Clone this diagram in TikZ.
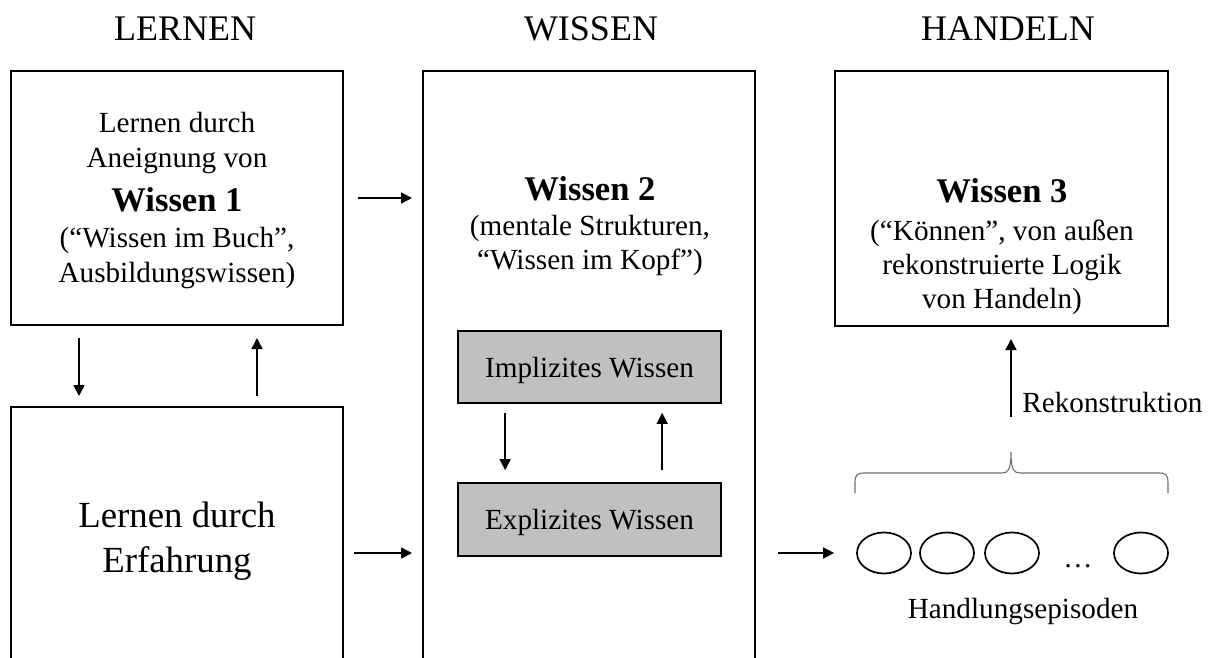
\documentclass[tikz,border=0pt]{standalone}
\usepackage{fontspec}
\setmainfont{Liberation Serif}
\usetikzlibrary{shapes.geometric,arrows.meta}
\definecolor{silvergrey}{RGB}{192,192,192}
\definecolor{bracegrey}{RGB}{110,110,110}
\newcommand\myfs[1]{\fontsize{#1}{#1}\selectfont}
\begin{document}
\begin{tikzpicture}[x=0.5pt,y=-0.5pt,
  box/.style={draw,line width=1pt,minimum width=166pt,inner sep=0pt},
  greybox/.style={draw,line width=0.85pt,fill=silvergrey,minimum width=131.5pt,minimum height=36pt,inner sep=0pt,text depth=0pt,font=\myfs{14.6}},
  head/.style={anchor=base,inner sep=0pt,font=\myfs{18}},
  txt/.style={anchor=base,inner sep=0pt,font=\myfs{14.6}},
  big/.style={anchor=base,inner sep=0pt,font=\myfs{18.4}},
  bold/.style={anchor=base,inner sep=0pt,font=\myfs{17.3}\bfseries},
  arr/.style={line width=0.8pt,-{Triangle[length=5.5pt,width=5.5pt]}},
  episode/.style={draw,ellipse,line width=0.85pt,minimum width=27pt,minimum height=20.5pt,inner sep=0pt}
]
\useasboundingbox (0,0) rectangle (1212,658);
\clip (0,0) rectangle (1212,658);

% headings
\node[head] (hL) at (185,41) {LERNEN};
\node[head] (hW) at (591,41) {WISSEN};
\node[head] (hH) at (1008,41) {HANDELN};

% boxes
\node[box,minimum height=127pt] (box1) at (177,198) {};
\node[box,minimum height=146pt] (erf) at (177,553) {};
\node[box,minimum height=482pt] (w2) at (589,553) {};
\node[box,minimum width=166.5pt,minimum height=127.5pt] (w3) at (1001.5,198.5) {};
\node[greybox] (impl) at (589.5,367) {Implizites Wissen};
\node[greybox,minimum height=36.5pt] (expl) at (589.5,519.5) {Explizites Wissen};

% box 1 text
\node[txt] (t1a) at (177,133) {Lernen durch};
\node[txt] (t1b) at (177,168) {Aneignung von};
\node[bold] (t1c) at (177,212) {Wissen 1};
\node[txt] (t1d) at (177,248) {(“Wissen im Buch”,};
\node[txt] (t1e) at (177,283) {Ausbildungswissen)};

% Erfahrung text
\node[big] (t2a) at (177,527) {Lernen durch};
\node[big] (t2b) at (177,572) {Erfahrung};

% Wissen 2 text
\node[bold] (t3a) at (590,201) {Wissen 2};
\node[txt] (t3b) at (590,235) {(mentale Strukturen,};
\node[txt] (t3c) at (590,270) {“Wissen im Kopf”)};

% Wissen 3 text
\node[bold] (t4a) at (1002,203) {Wissen 3};
\node[txt] (t4b) at (1002,241) {(“Können”, von außen};
\node[txt] (t4c) at (1002,275) {rekonstruierte Logik};
\node[txt] (t4d) at (1002,308) {von Handeln)};

% episodes
\node[episode] (e1) at (884,553) {};
\node[episode] (e2) at (947,553) {};
\node[episode] (e3) at (1012,553) {};
\node[txt] (dots) at (1078,567) {…};
\node[episode] (e4) at (1141,553) {};
\node[txt] (hep) at (1023,618) {Handlungsepisoden};

% brace
\coordinate (btip) at (1011,452);
\draw[bracegrey,line width=0.55pt] (855,493) -- (855,483) .. controls (855,475) and (857,473) .. (864,473)
  -- (1002,473) .. controls (1008,473) and (1011,470) .. (btip)
  .. controls (1011,470) and (1014,473) .. (1020,473)
  -- (1159,473) .. controls (1166,473) and (1168,475) .. (1168,483) -- (1168,493);

% arrows
\draw[arr,shorten <=7pt,shorten >=5pt] (box1.east) -- (box1.east -| w2.west);
\draw[arr,shorten <=5pt,shorten >=5pt] (erf.east) -- (erf.east -| w2.west);
\draw[arr,shorten <=11pt,shorten >=11pt] (w2.east |- e1.west) -- (e1.west);
\draw[arr,shorten <=6pt,shorten >=5pt] ([xshift=34.5pt]box1.south west) -- ([xshift=34.5pt]box1.south west |- erf.north);
\draw[arr,shorten <=5pt,shorten >=6pt] ([xshift=123.5pt]erf.north west) -- ([xshift=123.5pt]erf.north west |- box1.south);
\draw[arr,shorten <=4.5pt,shorten >=6pt] ([xshift=24pt]impl.south west) -- ([xshift=24pt]impl.south west |- expl.north);
\draw[arr,shorten <=6pt,shorten >=4.5pt] ([xshift=102.5pt]expl.north west) -- ([xshift=102.5pt]expl.north west |- impl.south);
\draw[arr,shorten <=17.5pt,shorten >=6pt] (btip) -- (btip |- w3.south);
\node[txt,anchor=base west] (rek) at (1022,412) {Rekonstruktion};
\end{tikzpicture}
\end{document}
